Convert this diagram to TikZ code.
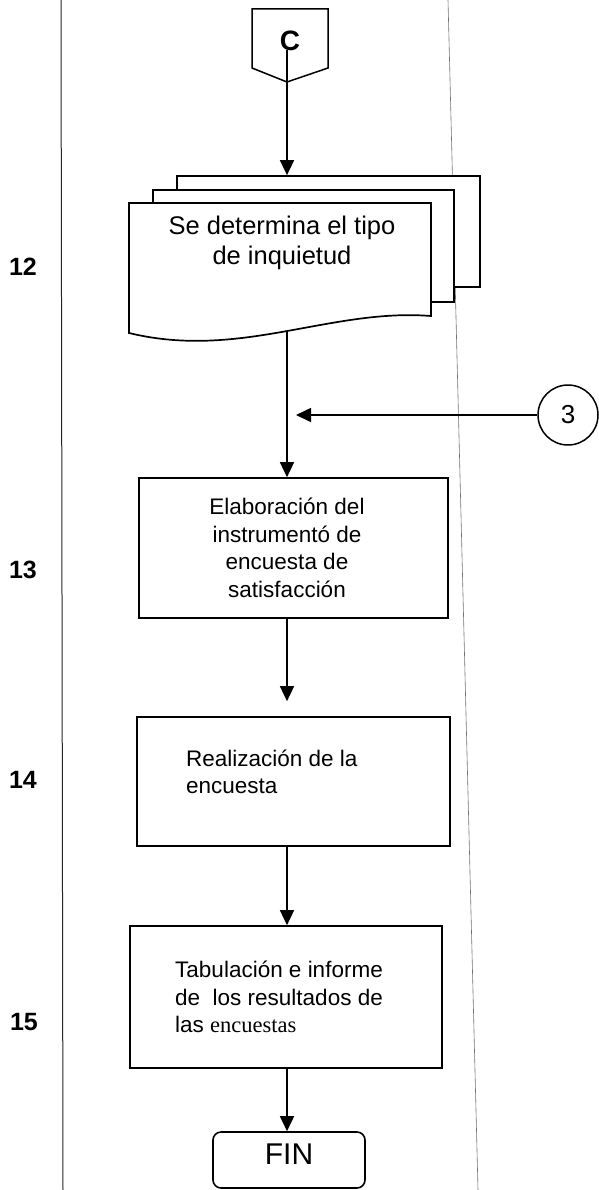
\documentclass[tikz,border=0pt]{standalone}
\usepackage{fontspec}
\setmainfont{Liberation Sans}
\newfontfamily\serifword{Liberation Serif}
\usetikzlibrary{arrows.meta, positioning}

\begin{document}
\begin{tikzpicture}[x=1pt, y=-1pt,
    box/.style={draw, line width=1.7pt, fill=white, inner sep=0pt},
    boxtext/.style={inner sep=0pt, font=\fontsize{22.5}{27.5}\selectfont},
    stepnum/.style={font=\fontsize{25}{25}\selectfont\bfseries},
    arr/.style={line width=1.6pt, -{Triangle[length=15pt, width=14pt]}}]

    % Page frame
    \useasboundingbox (0,0) rectangle (598,1190);
    \fill[white] (0,0) rectangle (598,1190);

    % Lane lines
    \draw[line width=1pt, black!85] (61,0) -- (63,1190);
    \draw[line width=0.6pt, black!55] (448,0) -- (478,1190);

    % Off-page connector
    \draw[line width=1.5pt, fill=white] (252,9) -- (328,9) -- (328,68) -- (287,82) -- (252,68) -- cycle;
    \node[font=\fontsize{28}{28}\selectfont\bfseries] (conC) at (290,41) {C};
    \coordinate (conCout) at (287,50);

    % Step 12: multi-document
    \node[box, minimum width=303pt, minimum height=111pt] (doc12c) at (328.5,231.5) {};
    \node[box, minimum width=301pt, minimum height=112pt] (doc12b) at (303.5,246) {};
    \draw[line width=1.7pt, fill=white] (129,203) -- (431,203) -- (431,316)
        .. controls (330,308) and (240,360) .. (129,333) -- cycle;
    \node[align=center, inner sep=0pt, font=\fontsize{25.5}{30}\selectfont] (doc12) at (282,243)
        {Se determina el tipo\\de inquietud};
    \coordinate (doc12out) at (287,332);

    % Step 13
    \node[box, minimum width=309pt, minimum height=140pt] (box13) at (293.5,548) {};
    \node[boxtext, align=center] (txt13) at (287,548)
        {Elaboración del\\instrumentó de\\encuesta de\\satisfacción};

    % Connector 3
    \node[draw, circle, line width=1.5pt, minimum size=60pt, inner sep=0pt,
        font=\fontsize{26}{26}\selectfont] (con3) at (568,415) {3};
    \coordinate (con3in) at (296,415);

    % Step 14
    \node[box, minimum width=313pt, minimum height=129pt] (box14) at (293.5,781.5) {};
    \node[boxtext, align=left, anchor=west] (txt14) at (186,772)
        {Realización de la\\encuesta};

    % Step 15
    \node[box, minimum width=312pt, minimum height=142pt] (box15) at (286,997) {};
    \node[boxtext, align=left, anchor=west] (txt15) at (175,997)
        {Tabulación e informe\\de\ \ los resultados de\\las {\serifword encuestas}};

    % End
    \node[draw, rounded corners=8pt, line width=1.6pt, minimum width=152pt, minimum height=56pt,
        text depth=12pt, font=\fontsize{30}{30}\selectfont] (fin) at (289,1160) {FIN};

    % Step numbers
    \node[stepnum] (n12) at (23,267) {12};
    \node[stepnum] (n13) at (23,570) {13};
    \node[stepnum] (n14) at (23,780) {14};
    \node[stepnum] (n15) at (24,1022) {15};

    % Connectors
    \draw[arr] (conCout) -- (conCout |- doc12c.north);
    \draw[arr] (doc12out) -- (doc12out |- box13.north);
    \draw[arr] (con3.west) -- (con3in);
    \draw[arr, shorten >=15pt] (doc12out |- box13.south) -- (doc12out |- box14.north);
    \draw[arr] (doc12out |- box14.south) -- (doc12out |- box15.north);
    \draw[arr] (doc12out |- box15.south) -- (doc12out |- fin.north);
\end{tikzpicture}
\end{document}
